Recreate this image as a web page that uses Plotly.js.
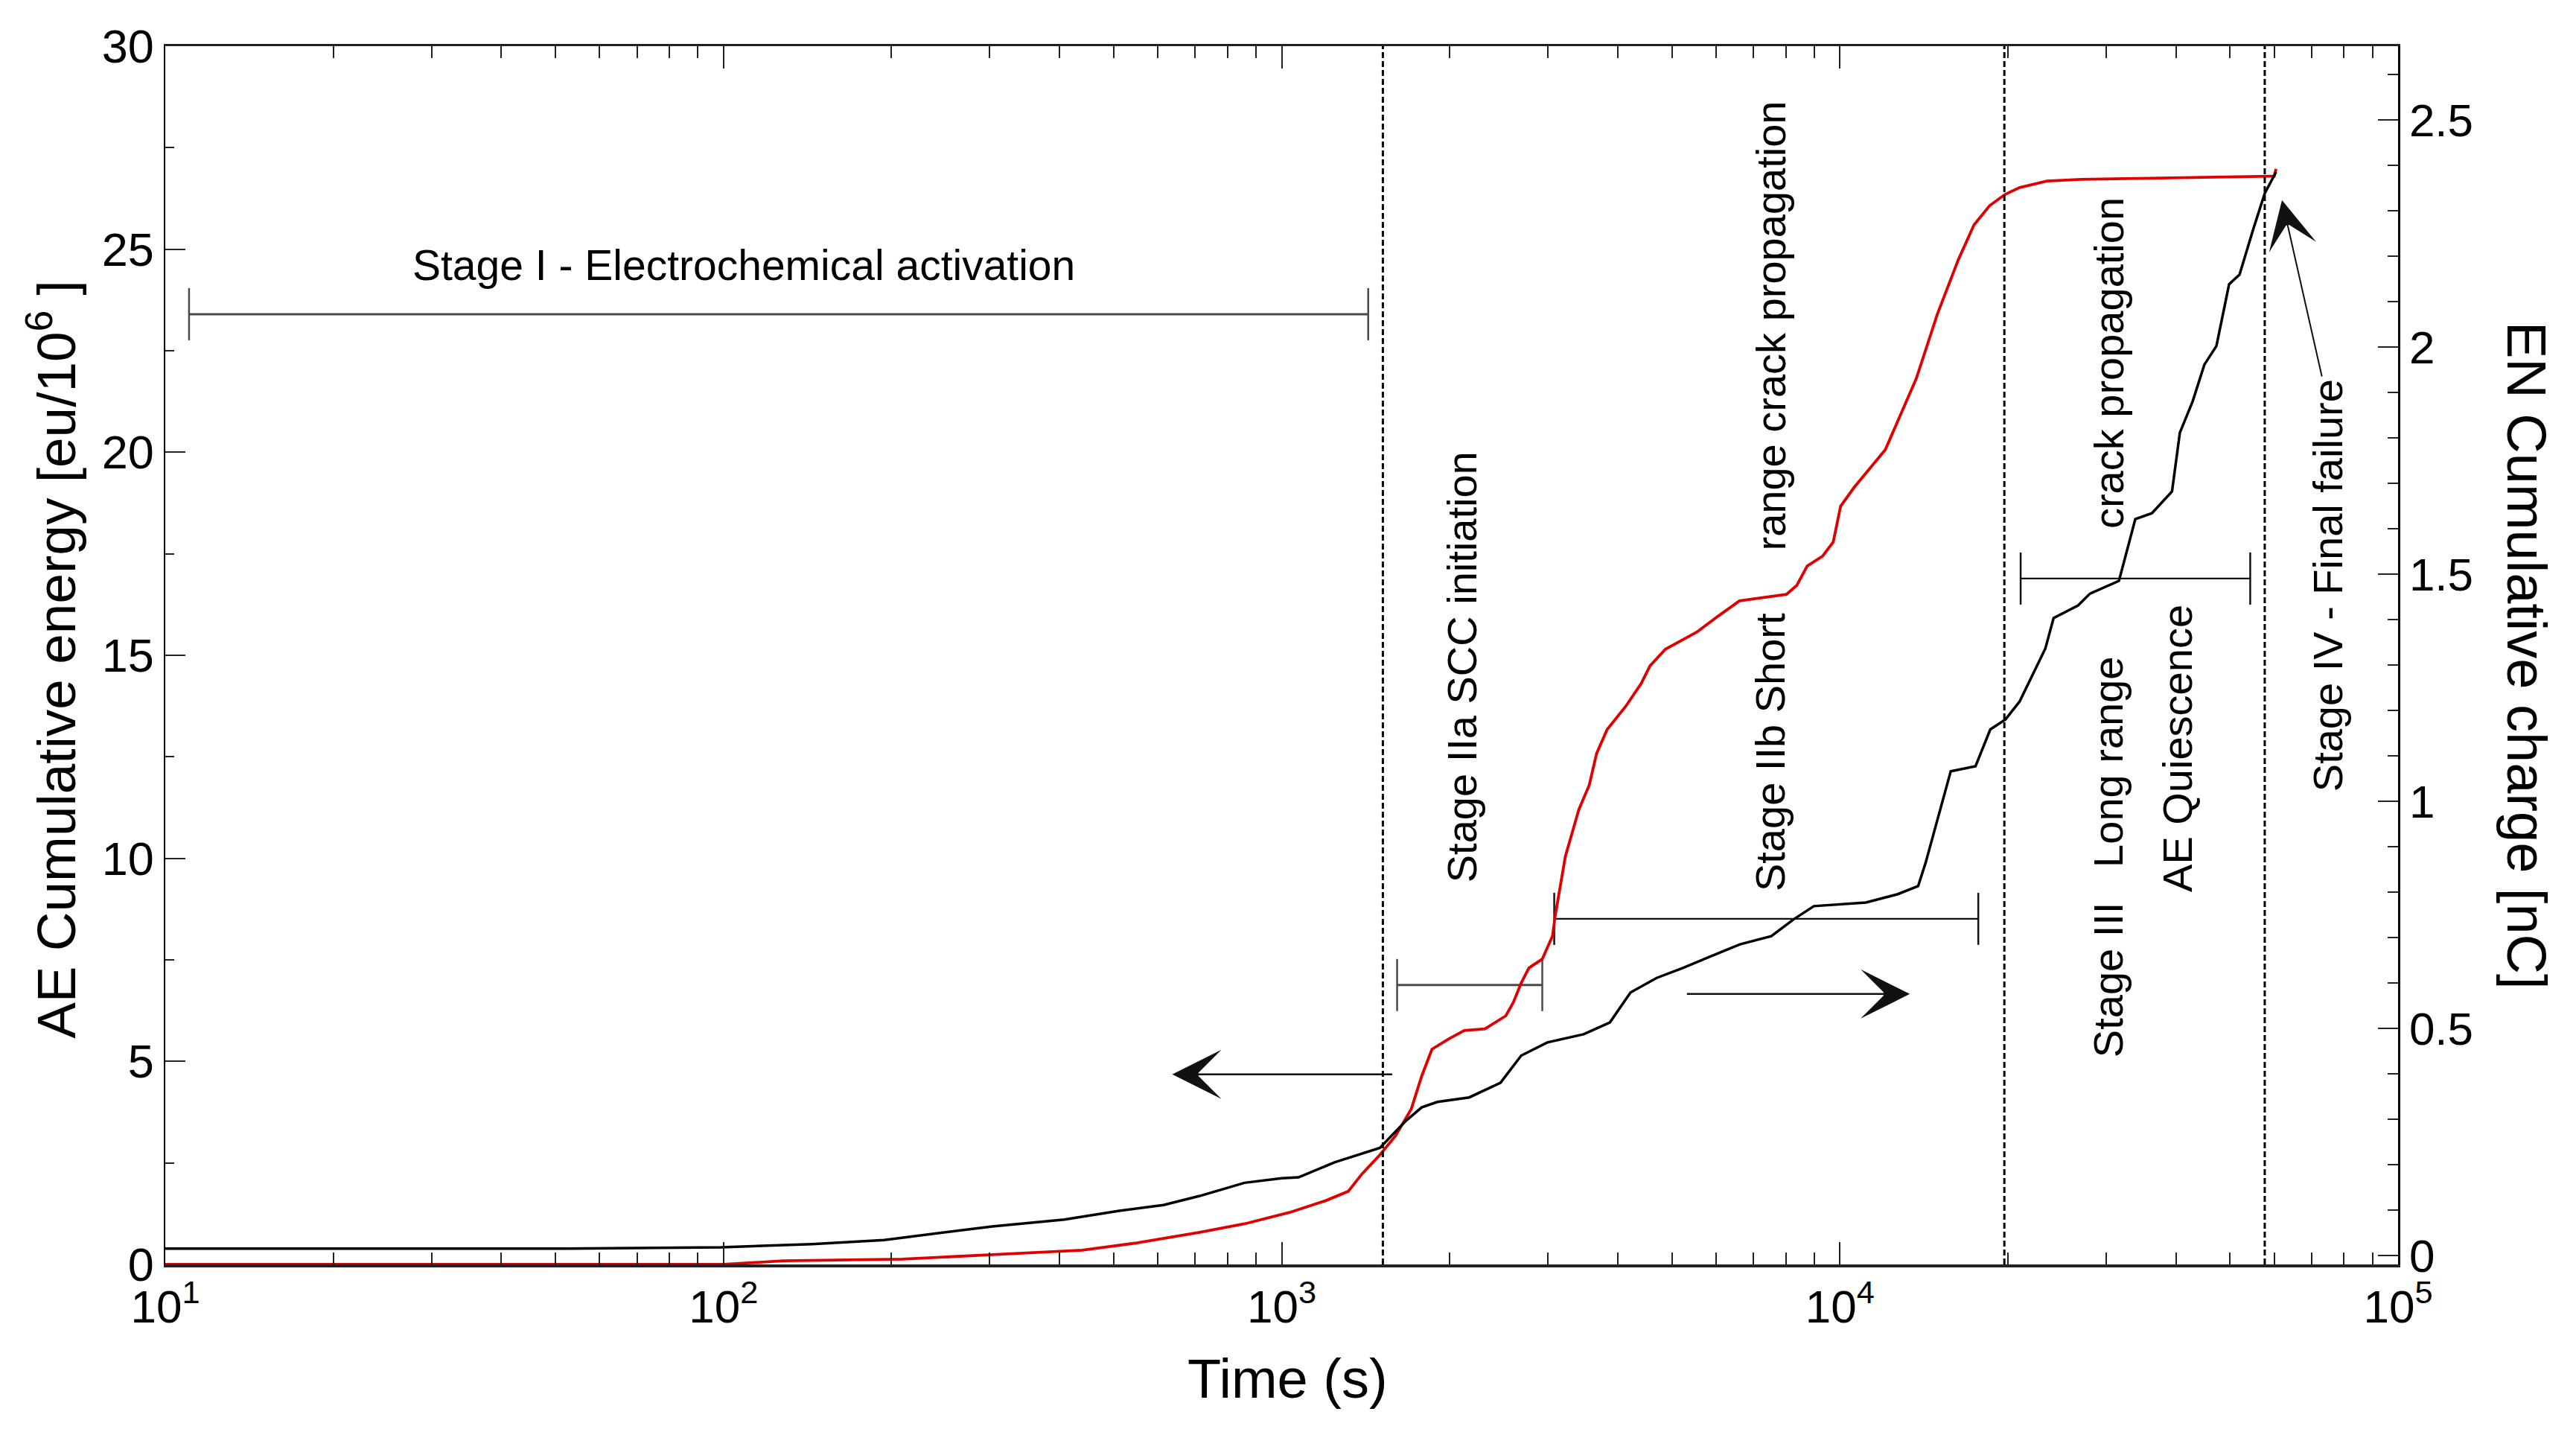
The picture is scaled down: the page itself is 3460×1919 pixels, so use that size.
<!DOCTYPE html>
<html>
<head>
<meta charset="utf-8">
<script src="https://cdn.plot.ly/plotly-3.0.1.min.js"></script>
<style>
  html, body { margin: 0; padding: 0; background: #ffffff; }
  #chart { width: 3460px; height: 1919px; }
</style>
</head>
<body>
<div id="chart"></div>
<script>
// ---------------- data ----------------
// AE cumulative energy (left axis, eu/10^6) vs time (s)
const timeAE = [10, 50, 100, 128, 209, 303, 439, 550, 713, 858, 1033, 1199, 1316, 1393, 1500,
  1600, 1707, 1782, 1859, 1990, 2124, 2313, 2520, 2600, 2686, 2773, 2930, 3057, 3090, 3223,
  3407, 3556, 3666, 3828, 4132, 4404, 4570, 4870, 5540, 6060, 6610, 8020, 8370, 8740, 9310,
  9730, 10030, 10600, 12060, 13710, 14950, 16300, 17390, 18540, 19770, 21000, 23500, 27000,
  40000, 55000, 60000, 60450];
const aeEnergy = [0, 0, 0, 0.09, 0.13, 0.24, 0.35, 0.53, 0.79, 1.0, 1.28, 1.57, 1.8, 2.23, 2.7,
  3.17, 3.83, 4.64, 5.3, 5.55, 5.76, 5.8, 6.12, 6.45, 6.93, 7.3, 7.52, 8.09, 8.58, 10.05,
  11.2, 11.8, 12.58, 13.17, 13.74, 14.3, 14.74, 15.15, 15.57, 15.97, 16.34, 16.5, 16.72, 17.2, 17.44,
  17.79, 18.67, 19.13, 20.06, 21.82, 23.4, 24.74, 25.6, 26.07, 26.35, 26.52, 26.68, 26.72,
  26.76, 26.78, 26.8, 26.98];

// EN cumulative charge (right axis, nC) vs time (s)
const timeEN = [10, 50, 99, 144, 194, 251, 303, 408, 509, 614, 713, 858, 1000, 1072, 1244, 1500,
  1671, 1782, 1901, 2168, 2466, 2686, 2992, 3475, 3872, 4217, 4697, 5233, 5826, 6625, 7537,
  8244, 8982, 11135, 12675, 13810, 14240, 15030, 15800, 17500, 18600, 19800, 21000, 23340,
  24150, 26720, 28070, 31620, 33830, 36230, 39360, 40650, 42850, 44980, 47270, 49810, 52000,
  55080, 57700, 60450];
const enCharge = [0.015, 0.015, 0.018, 0.025, 0.034, 0.051, 0.064, 0.079, 0.098, 0.111, 0.131, 0.16,
  0.17, 0.172, 0.205, 0.237, 0.297, 0.326, 0.338, 0.348, 0.38, 0.44, 0.469, 0.487, 0.513,
  0.579, 0.611, 0.633, 0.656, 0.685, 0.703, 0.739, 0.769, 0.777, 0.795, 0.813, 0.864, 0.97,
  1.066, 1.077, 1.158, 1.18, 1.22, 1.336, 1.403, 1.431, 1.457, 1.485, 1.621, 1.634, 1.682,
  1.811, 1.88, 1.961, 2.002, 2.138, 2.159, 2.261, 2.338, 2.385];

// stage boundaries (s) drawn as dashed vertical lines
const stageBoundaries = [1518, 19710, 57700];

// stage span bars (on left axis)
const stageBarStart = [11.03, 1610, 3078, 21080];
const stageBarEnd   = [1429, 2930, 17700, 54340];
const stageBarLevel = [23.4, 6.88, 8.51, 16.89];

// tick labels
const xTickVals = [10, 100, 1000, 10000, 100000];
const xTickText = ['10<sup>1</sup>', '10<sup>2</sup>', '10<sup>3</sup>', '10<sup>4</sup>', '10<sup>5</sup>'];
const yLeftTickVals = [0, 5, 10, 15, 20, 25, 30];
const yLeftTickText = ['0', '5', '10', '15', '20', '25', '30'];
const yRightTickVals = [0, 0.5, 1, 1.5, 2, 2.5];
const yRightTickText = ['0', '0.5', '1', '1.5', '2', '2.5'];

// ---------------- build chart ----------------
const FONT = 'Liberation Sans, Arial, Helvetica, sans-serif';

const xMinor = [];
for (let d = 1; d <= 4; d++) {
  for (let m = 2; m <= 9; m++) xMinor.push(m * Math.pow(10, d));
}

const traces = [];

// stage span bars
const barColors = ['#4a4a4a', '#4a4a4a', '#111111', '#111111'];
const barWidths = [3, 3, 2.2, 2.2];
for (let i = 0; i < stageBarStart.length; i++) {
  traces.push({
    x: [stageBarStart[i], stageBarEnd[i]],
    y: [stageBarLevel[i], stageBarLevel[i]],
    xaxis: 'x', yaxis: 'y',
    mode: 'lines+markers',
    line: { color: barColors[i], width: barWidths[i] },
    marker: { symbol: 'line-ns', size: 50, color: barColors[i], line: { color: barColors[i], width: 2.5 } },
    hoverinfo: 'skip', showlegend: false
  });
}

// EN cumulative charge (black, right axis)
traces.push({
  x: timeEN, y: enCharge, xaxis: 'x', yaxis: 'y2',
  mode: 'lines', line: { color: '#000000', width: 3.5 },
  name: 'EN Cumulative charge', showlegend: false
});

// AE cumulative energy (red, left axis)
traces.push({
  x: timeAE, y: aeEnergy, xaxis: 'x', yaxis: 'y',
  mode: 'lines', line: { color: '#e00000', width: 3.8 },
  name: 'AE Cumulative energy', showlegend: false
});

const shapes = stageBoundaries.map(t => ({
  type: 'line', xref: 'x', yref: 'paper',
  x0: t, x1: t, y0: 0, y1: 1,
  line: { color: '#000000', width: 3, dash: '8px,4px' },
  layer: 'above'
}));

const L = Math.log10;
function label(text, tx, y, angle, size) {
  return {
    text: text, xref: 'x', yref: 'y', x: L(tx), y: y,
    textangle: angle, showarrow: false,
    xanchor: 'center', yanchor: 'middle',
    font: { family: FONT, size: size || 56, color: '#000000' }
  };
}
function arrow(tipT, tipY, tailT, tailY, size, width, color) {
  return {
    text: '', xref: 'x', yref: 'y', axref: 'x', ayref: 'y',
    x: L(tipT), y: tipY, ax: L(tailT), ay: tailY,
    showarrow: true, arrowhead: 3, arrowsize: size, arrowwidth: width,
    arrowcolor: color, standoff: 0, startstandoff: 0
  };
}

const annotations = [
  label('Stage I - Electrochemical activation', Math.pow(10, 2.036), 24.61, 0, 57),
  label('Stage IIa SCC initiation', Math.pow(10, 3.3227), 14.71, -90, 56),
  label('Stage IIb Short', Math.pow(10, 3.876), 12.62, -90, 56),
  label('range crack propagation', Math.pow(10, 3.876), 23.12, -90, 56),
  label('crack propagation', Math.pow(10, 4.4827), 22.19, -90, 56),
  label('Stage III\u00a0\u00a0 Long range', Math.pow(10, 4.4800), 10.03, -90, 56),
  label('AE Quiescence', Math.pow(10, 4.6053), 12.71, -90, 56),
  label('Stage IV - Final failure', Math.pow(10, 4.8733), 16.72, -90, 56),
  arrow(Math.pow(10, 2.804), 4.68, Math.pow(10, 3.2), 4.68, 4.4, 2.5, '#111111'),
  arrow(Math.pow(10, 4.1253), 6.66, Math.pow(10, 3.724), 6.66, 4.4, 2.5, '#111111'),
  arrow(Math.pow(10, 4.792), 26.21, Math.pow(10, 4.864), 21.84, 5.4, 2, '#111111'),
  // axis titles
  {
    text: 'AE Cumulative energy [eu/10<sup>6</sup> ]', xref: 'paper', yref: 'paper',
    x: -0.0507, y: 0.497, textangle: -90, showarrow: false,
    xanchor: 'center', yanchor: 'middle',
    font: { family: FONT, size: 73, color: '#000000' }
  },
  {
    text: 'EN Cumulative charge [nC]', xref: 'paper', yref: 'paper',
    x: 1.0577, y: 0.5, textangle: 90, showarrow: false,
    xanchor: 'center', yanchor: 'middle',
    font: { family: FONT, size: 74, color: '#000000' }
  },
  {
    text: 'Time (s)', xref: 'paper', yref: 'paper',
    x: 0.5028, y: -0.094, showarrow: false,
    xanchor: 'center', yanchor: 'middle',
    font: { family: FONT, size: 74, color: '#000000' }
  }
];

const layout = {
  width: 3460, height: 1919,
  margin: { l: 222, r: 239, t: 62, b: 221, pad: 0 },
  paper_bgcolor: '#ffffff', plot_bgcolor: '#ffffff',
  showlegend: false,
  font: { family: FONT, color: '#000000' },
  xaxis: {
    type: 'log', range: [1, 5], autorange: false,
    showgrid: false, zeroline: false,
    showline: true, linecolor: '#222222', linewidth: 3.5, mirror: 'ticks',
    ticks: 'inside', ticklen: 30, tickwidth: 2, tickcolor: '#222222',
    tickmode: 'array', tickvals: xTickVals, ticktext: xTickText,
    tickfont: { family: FONT, size: 62, color: '#000000' },
    minor: { tickmode: 'array', tickvals: xMinor, ticks: 'inside', ticklen: 16, tickwidth: 2, tickcolor: '#222222', showgrid: false }
  },
  yaxis: {
    range: [0, 30], autorange: false,
    showgrid: false, zeroline: false,
    showline: true, linecolor: '#000000', linewidth: 2.5,
    ticks: 'inside', ticklen: 27, tickwidth: 2, tickcolor: '#222222',
    tickmode: 'array', tickvals: yLeftTickVals, ticktext: yLeftTickText,
    tickfont: { family: FONT, size: 63, color: '#000000' },
    minor: { tick0: 0, dtick: 2.5, ticks: 'inside', ticklen: 12, tickwidth: 2, tickcolor: '#222222', showgrid: false }
  },
  yaxis2: {
    overlaying: 'y', side: 'right',
    range: [-0.0197, 2.662], autorange: false,
    showgrid: false, zeroline: false,
    showline: true, linecolor: '#000000', linewidth: 2.5,
    ticks: 'inside', ticklen: 27, tickwidth: 2, tickcolor: '#222222',
    tickmode: 'array', tickvals: yRightTickVals, ticktext: yRightTickText,
    tickfont: { family: FONT, size: 62, color: '#000000' },
    minor: { tick0: 0, dtick: 0.1, ticks: 'inside', ticklen: 14, tickwidth: 2, tickcolor: '#222222', showgrid: false }
  },
  shapes: shapes,
  annotations: annotations
};

Plotly.newPlot('chart', traces, layout, { displayModeBar: false, staticPlot: true });
</script>
</body>
</html>
